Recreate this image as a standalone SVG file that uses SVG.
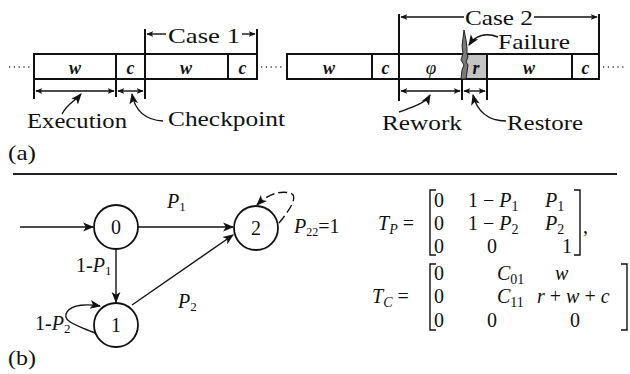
<svg xmlns="http://www.w3.org/2000/svg" width="630" height="374" viewBox="0 0 630 374" font-family="'Liberation Serif','DejaVu Serif',serif">
<defs>
<marker id="ah" viewBox="0 0 10 10" refX="9" refY="5" markerWidth="7" markerHeight="7" orient="auto-start-reverse" markerUnits="userSpaceOnUse"><path d="M0,1 L10,5 L0,9 L2.5,5 z" fill="#111"/></marker>
<marker id="ahb" viewBox="0 0 10 10" refX="9" refY="5" markerWidth="11" markerHeight="11" orient="auto-start-reverse" markerUnits="userSpaceOnUse"><path d="M0,1 L10,5 L0,9 L2.5,5 z" fill="#111"/></marker>
<style>
text{font-family:'Liberation Serif','DejaVu Serif',serif;fill:#111}
.lab{font-size:21px}
.bx{font-size:18px;font-weight:bold;font-style:italic}
.box{fill:#fff;stroke:#111;stroke-width:2}
.ln{stroke:#111;stroke-width:2;fill:none}
.thin{stroke:#111;stroke-width:1.4;fill:none}
.dots{stroke:#333;stroke-width:1.3;stroke-dasharray:1.2 3.6}
.node{fill:#fff;stroke:#111;stroke-width:1.8}
.m{font-size:20px}
.i{font-style:italic}
</style>
</defs>

<!-- Part (a) -->
<g id="strip1">
<line class="dots" x1="9" y1="67" x2="30" y2="67"/>
<rect class="box" x="34" y="54" width="223" height="25"/>
<line class="ln" x1="116" y1="54" x2="116" y2="79"/>
<line class="ln" x1="228" y1="54" x2="228" y2="79"/>
<text class="bx" x="75" y="74" text-anchor="middle">w</text>
<text class="bx" x="130.5" y="74" text-anchor="middle">c</text>
<text class="bx" x="186" y="74" text-anchor="middle">w</text>
<text class="bx" x="242.5" y="74" text-anchor="middle">c</text>
<line class="dots" x1="261" y1="67" x2="283" y2="67"/>
</g>

<g id="strip2">
<rect class="box" x="287" y="54" width="312" height="25"/>
<rect x="463" y="55" width="24" height="23" fill="#c4c4c4"/>
<line class="ln" x1="372" y1="54" x2="372" y2="79"/>
<line class="ln" x1="487" y1="54" x2="487" y2="79"/>
<line class="ln" x1="572" y1="54" x2="572" y2="79"/>
<polygon points="464,30 466,40 467,48 467,53 468,57 466,62 468,65 467,72 466,79 461,79 462,70 464,65 461,60 463,53 462,46" fill="#7a7a7a" stroke="#222" stroke-width="1"/>
<text class="bx" x="329" y="74" text-anchor="middle">w</text>
<text class="bx" x="385.5" y="74" text-anchor="middle">c</text>
<text class="i" x="431" y="74" font-size="19" text-anchor="middle">φ</text>
<text class="bx" x="476" y="74" text-anchor="middle">r</text>
<text class="bx" x="529" y="74" text-anchor="middle">w</text>
<text class="bx" x="585.5" y="74" text-anchor="middle">c</text>
<line class="dots" x1="603" y1="67" x2="624" y2="67"/>
</g>

<g id="case1">
<line class="ln" x1="145" y1="29" x2="145" y2="99"/>
<line class="ln" x1="257" y1="29" x2="257" y2="54"/>
<line class="thin" x1="166" y1="34" x2="147" y2="34" marker-end="url(#ah)"/>
<line class="thin" x1="242" y1="34" x2="255" y2="34" marker-end="url(#ah)"/>
<text class="lab" x="168" y="43" textLength="72" lengthAdjust="spacingAndGlyphs">Case 1</text>
</g>

<g id="case2">
<line class="ln" x1="399" y1="14" x2="399" y2="101"/>
<line class="ln" x1="599" y1="14" x2="599" y2="54"/>
<line class="thin" x1="464" y1="17" x2="401" y2="17" marker-end="url(#ah)"/>
<line class="thin" x1="534" y1="17" x2="597" y2="17" marker-end="url(#ah)"/>
<text class="lab" x="465" y="25" textLength="68" lengthAdjust="spacingAndGlyphs">Case 2</text>
</g>

<g id="execution">
<line class="ln" x1="34" y1="79" x2="34" y2="99"/>
<line class="ln" x1="116" y1="79" x2="116" y2="97"/>
<line class="thin" x1="36" y1="91" x2="114" y2="91" marker-start="url(#ah)" marker-end="url(#ah)"/>
<path class="thin" d="M62,114 C67,104 75,101 81,94" marker-end="url(#ahb)"/>
<text class="lab" x="27" y="128" textLength="100" lengthAdjust="spacingAndGlyphs">Execution</text>
</g>

<g id="checkpoint">
<line class="thin" x1="118" y1="91" x2="143" y2="91" marker-start="url(#ah)" marker-end="url(#ah)"/>
<path class="thin" d="M163,121 C146,120 135,111 132,94" marker-end="url(#ahb)"/>
<text class="lab" x="168" y="126" textLength="117" lengthAdjust="spacingAndGlyphs">Checkpoint</text>
</g>

<g id="rework">
<line class="ln" x1="462" y1="79" x2="462" y2="100"/>
<line class="thin" x1="401" y1="91" x2="460" y2="91" marker-start="url(#ah)" marker-end="url(#ah)"/>
<path class="thin" d="M399,112 C410,108 425,104 430,95" marker-end="url(#ahb)"/>
<text class="lab" x="382" y="130" textLength="80" lengthAdjust="spacingAndGlyphs">Rework</text>
</g>

<g id="restore">
<line class="ln" x1="487" y1="79" x2="487" y2="100"/>
<line class="thin" x1="464" y1="91" x2="485" y2="91" marker-start="url(#ah)" marker-end="url(#ah)"/>
<path class="thin" d="M506,121 C488,121 477,111 473,95" marker-end="url(#ahb)"/>
<text class="lab" x="507" y="130" textLength="76" lengthAdjust="spacingAndGlyphs">Restore</text>
</g>

<g id="failure">
<path class="thin" d="M498,37 C485,32 475,36 469,45" marker-end="url(#ahb)"/>
<text class="lab" x="498" y="49" textLength="72" lengthAdjust="spacingAndGlyphs">Failure</text>
</g>

<text class="lab" x="8" y="160" textLength="28" lengthAdjust="spacingAndGlyphs">(a)</text>

<line x1="13" y1="174" x2="617" y2="174" stroke="#222" stroke-width="2"/>

<!-- Part (b) -->
<g id="connectors">
<line class="thin" x1="20" y1="227" x2="93" y2="227" marker-end="url(#ahb)"/>
<line class="thin" x1="138" y1="227" x2="233" y2="227" marker-end="url(#ahb)"/>
<line class="thin" x1="116" y1="249" x2="116" y2="302" marker-end="url(#ahb)"/>
<line class="thin" x1="132" y1="305" x2="233" y2="235" marker-end="url(#ahb)"/>
<path class="thin" d="M97,334 C82,327 60,322 67,312 C72,304 88,304 100,306" marker-end="url(#ahb)"/>
<path class="thin" d="M279,223 C288,212 300,196 290,193 C278,190 266,196 257,205" stroke-dasharray="9 4" marker-end="url(#ahb)"/>
</g>

<g id="node0">
<circle class="node" cx="116" cy="227" r="22"/>
<text x="116" y="234" font-size="20" text-anchor="middle">0</text>
</g>
<g id="node1">
<circle class="node" cx="116" cy="325" r="22"/>
<text x="116" y="332" font-size="20" text-anchor="middle">1</text>
</g>
<g id="node2">
<circle class="node" cx="256" cy="228" r="22"/>
<text x="256" y="235" font-size="20" text-anchor="middle">2</text>
</g>

<g id="edge-labels" font-size="20">
<text x="167" y="208"><tspan class="i">P</tspan><tspan font-size="13" dy="3">1</tspan></text>
<text x="76" y="272">1-<tspan class="i">P</tspan><tspan font-size="13" dy="3">1</tspan></text>
<text x="178" y="308"><tspan class="i">P</tspan><tspan font-size="13" dy="3">2</tspan></text>
<text x="35" y="330">1-<tspan class="i">P</tspan><tspan font-size="13" dy="3">2</tspan></text>
<text x="294" y="233"><tspan class="i">P</tspan><tspan font-size="12" dy="3">22</tspan><tspan dy="-3">=1</tspan></text>
</g>

<!-- Matrices -->
<g id="matrixTP" class="m">
<text x="378" y="230"><tspan class="i">T</tspan><tspan class="i" font-size="14" dy="4">P</tspan><tspan dy="-4"> =</tspan></text>
<path class="thin" d="M436,190 H430 V255 H436" stroke-width="1.6"/>
<path class="thin" d="M574,190 H580 V255 H574" stroke-width="1.6"/>
<text x="583" y="233">,</text>
<text x="434" y="207">0</text>
<text x="468" y="207">1 − <tspan class="i">P</tspan><tspan font-size="14" dy="4">1</tspan></text>
<text x="545" y="207"><tspan class="i">P</tspan><tspan font-size="14" dy="4">1</tspan></text>
<text x="434" y="230">0</text>
<text x="468" y="230">1 − <tspan class="i">P</tspan><tspan font-size="14" dy="4">2</tspan></text>
<text x="545" y="230"><tspan class="i">P</tspan><tspan font-size="14" dy="4">2</tspan></text>
<text x="434" y="253">0</text>
<text x="487" y="253">0</text>
<text x="562" y="253">1</text>
</g>

<g id="matrixTC" class="m">
<text x="372" y="303"><tspan class="i">T</tspan><tspan class="i" font-size="14" dy="4">C</tspan><tspan dy="-4"> =</tspan></text>
<path class="thin" d="M436,264 H430 V330 H436" stroke-width="1.6"/>
<path class="thin" d="M621,264 H627 V330 H621" stroke-width="1.6"/>
<text x="434" y="280">0</text>
<text x="497" y="280"><tspan class="i">C</tspan><tspan font-size="14" dy="4">01</tspan></text>
<text x="555" y="280" class="i">w</text>
<text x="434" y="303">0</text>
<text x="497" y="303"><tspan class="i">C</tspan><tspan font-size="14" dy="4">11</tspan></text>
<text x="537" y="303"><tspan class="i">r</tspan> + <tspan class="i">w</tspan> + <tspan class="i">c</tspan></text>
<text x="434" y="327">0</text>
<text x="487" y="327">0</text>
<text x="570" y="327">0</text>
</g>

<text class="lab" x="8" y="365" textLength="28" lengthAdjust="spacingAndGlyphs">(b)</text>
</svg>
